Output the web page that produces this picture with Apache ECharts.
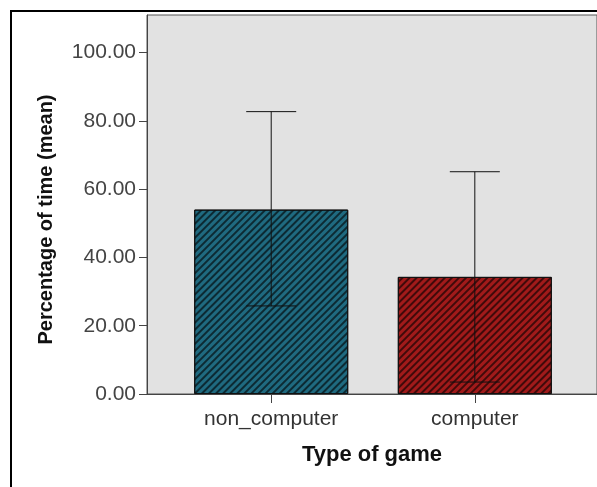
<!DOCTYPE html>
<html>
<head>
<meta charset="utf-8">
<script src="https://cdn.jsdelivr.net/npm/echarts@6.0.0/dist/echarts.min.js"></script>
<style>
  html, body { margin: 0; padding: 0; background: #fff; }
  #chart { width: 597px; height: 487px; }
</style>
</head>
<body>
<div id="chart"></div>
<script>
// data
const categories = ['non_computer', 'computer'];
const means = [54.0, 34.3];
const errLow = [25.8, 3.5];
const errHigh = [82.7, 65.1];
const barColors = ['#1f6a80', '#a11a1a'];
const yTicks = [0, 20, 40, 60, 80, 100];

const chart = echarts.init(document.getElementById('chart'));

const barData = means.map((v, i) => ({
  value: [i, v],
  itemStyle: {
    color: barColors[i],
    borderColor: '#111',
    borderWidth: 1,
    decal: {
      symbol: 'rect',
      dashArrayX: [1, 0],
      dashArrayY: [2, 2.5],
      rotation: -Math.PI / 4,
      color: 'rgba(0,0,0,0.6)'
    }
  }
}));

const errData = categories.map((c, i) => [i, errLow[i], errHigh[i]]);

const option = {
  animation: false,
  textStyle: { fontFamily: 'Liberation Sans, Arial, sans-serif' },
  graphic: [{
    type: 'rect',
    shape: { x: 11, y: 11, width: 620, height: 500 },
    style: { fill: 'none', stroke: '#000', lineWidth: 2 },
    z: 100
  }],
  grid: {
    left: 147, top: 15, width: 453, bottom: 93,
    show: true,
    backgroundColor: '#e2e2e2',
    borderColor: '#555',
    borderWidth: 1
  },
  xAxis: {
    type: 'value',
    min: -0.61,
    max: 1.6,
    name: 'Type of game',
    nameLocation: 'middle',
    nameGap: 50,
    nameTextStyle: { fontSize: 22, fontWeight: 'bold', color: '#111' },
    splitLine: { show: false },
    axisLine: { show: true, lineStyle: { color: '#444', width: 1 } },
    axisTick: { show: true, customValues: [0, 1], length: 9, lineStyle: { color: '#444' } },
    axisLabel: {
      customValues: [0, 1],
      formatter: v => categories[Math.round(v)],
      fontSize: 21,
      color: '#333',
      margin: 15
    }
  },
  yAxis: {
    type: 'value',
    min: 0,
    max: 111,
    interval: 20,
    name: 'Percentage of time (mean)',
    nameLocation: 'middle',
    nameGap: 91,
    nameTextStyle: { fontSize: 20, fontWeight: 'bold', color: '#111', padding: [0, 30, 0, 0] },
    splitLine: { show: false },
    axisLine: { show: true, onZero: false, lineStyle: { color: '#444', width: 1 } },
    axisTick: { show: true, customValues: yTicks, length: 8, lineStyle: { color: '#444' } },
    axisLabel: {
      customValues: yTicks,
      formatter: v => v.toFixed(2),
      fontSize: 21,
      color: '#444',
      margin: 11
    }
  },
  series: [{
    type: 'bar',
    barWidth: 154,
    data: barData,
    z: 2
  }, {
    type: 'custom',
    z: 5,
    data: errData,
    renderItem: (params, api) => {
      const x = api.value(0);
      const lo = api.coord([x, api.value(1)]);
      const hi = api.coord([x, api.value(2)]);
      const half = 25;
      const style = { stroke: '#111', lineWidth: 1 };
      return {
        type: 'group',
        children: [
          { type: 'line', shape: { x1: lo[0], y1: lo[1], x2: hi[0], y2: hi[1] }, style },
          { type: 'line', shape: { x1: hi[0] - half, y1: hi[1], x2: hi[0] + half, y2: hi[1] }, style },
          { type: 'line', shape: { x1: lo[0] - half, y1: lo[1], x2: lo[0] + half, y2: lo[1] }, style }
        ]
      };
    }
  }]
};

chart.setOption(option);
</script>
</body>
</html>
